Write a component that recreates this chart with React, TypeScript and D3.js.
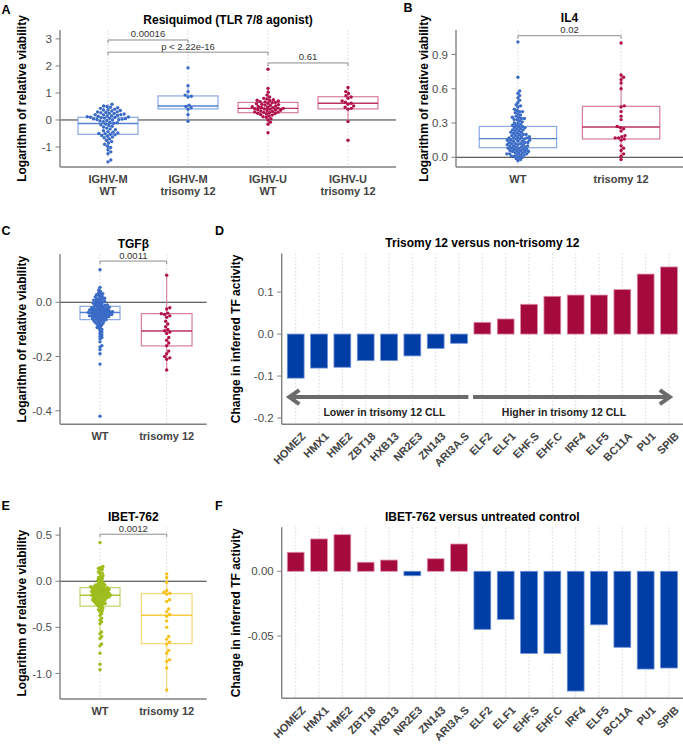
import React from 'react';
import * as d3 from 'd3';

const FONT = '"Liberation Sans", Arial, Helvetica, sans-serif';

// ---------- A: Resiquimod ----------
const resiqGroups = [['IGHV-M', 'WT'], ['IGHV-M', 'trisomy 12'], ['IGHV-U', 'WT'], ['IGHV-U', 'trisomy 12']];
const resiqMutWt = [0.58, 0.52, 0.5, 0.47, 0.45, 0.43, 0.4, 0.38, 0.37, 0.35, 0.33, 0.3, 0.3, 0.28, 0.27, 0.25, 0.24,
  0.22, 0.2, 0.2, 0.19, 0.17, 0.16, 0.15, 0.14, 0.12, 0.11, 0.1, 0.09, 0.08, 0.07, 0.06, 0.05, 0.04, 0.03, 0.02, 0.01,
  0.0, -0.02, -0.04, -0.06, -0.08, -0.1, -0.12, -0.15, -0.18, -0.2, -0.23, -0.26, -0.3, -0.33, -0.36, -0.4, -0.43,
  -0.45, -0.48, -0.5, -0.51, -0.53, -0.55, -0.57, -0.6, -0.63, -0.66, -0.7, -0.75, -0.8, -0.85, -0.9, -0.97, -1.02,
  -1.1, -1.18, -1.25, -1.48, -1.55];
const resiqMutTri = [1.93, 1.27, 1.05, 0.92, 0.88, 0.85, 0.55, 0.5, 0.45, 0.4, 0.2, -0.05];
const resiqUnmWt = [1.88, 1.17, 1.03, 0.92, 0.85, 0.8, 0.78, 0.75, 0.73, 0.72, 0.7, 0.68, 0.67, 0.65, 0.64, 0.62, 0.6,
  0.58, 0.57, 0.55, 0.54, 0.52, 0.5, 0.49, 0.48, 0.46, 0.45, 0.44, 0.43, 0.42, 0.41, 0.4, 0.38, 0.37, 0.36, 0.35, 0.33,
  0.32, 0.3, 0.29, 0.28, 0.27, 0.25, 0.24, 0.22, 0.2, 0.18, 0.15, 0.12, 0.1, 0.05, 0.0, -0.08, -0.16, -0.47];
const resiqUnmTri = [1.2, 1.05, 0.98, 0.9, 0.85, 0.8, 0.7, 0.66, 0.62, 0.58, 0.52, 0.47, 0.43, 0.4, -0.06, -0.75];
const resiqBoxes = [[-0.53, -0.13, 0.1], [0.41, 0.52, 0.89], [0.27, 0.43, 0.65], [0.41, 0.62, 0.86]];
const resiqTicks = [-1, 0, 1, 2, 3];

// ---------- B: IL4 ----------
const il4Groups = [['WT'], ['trisomy 12']];
const il4Wt = [1.01, 0.7, 0.58, 0.56, 0.54, 0.52, 0.5, 0.48, 0.46, 0.45, 0.44, 0.42, 0.41, 0.4, 0.4, 0.39, 0.38, 0.37,
  0.36, 0.35, 0.35, 0.34, 0.34, 0.33, 0.33, 0.32, 0.31, 0.3, 0.3, 0.29, 0.28, 0.28, 0.27, 0.27, 0.26, 0.26, 0.25, 0.25,
  0.24, 0.24, 0.23, 0.23, 0.22, 0.22, 0.21, 0.21, 0.2, 0.2, 0.2, 0.19, 0.19, 0.18, 0.18, 0.18, 0.17, 0.17, 0.17, 0.16,
  0.16, 0.16, 0.15, 0.15, 0.15, 0.14, 0.14, 0.14, 0.13, 0.13, 0.13, 0.12, 0.12, 0.12, 0.11, 0.11, 0.11, 0.1, 0.1, 0.1,
  0.09, 0.09, 0.09, 0.08, 0.08, 0.08, 0.07, 0.07, 0.07, 0.06, 0.06, 0.06, 0.05, 0.05, 0.05, 0.04, 0.04, 0.04, 0.03,
  0.03, 0.03, 0.02, 0.02, 0.02, 0.01, 0.01, 0.0, 0.0, -0.01, -0.02, -0.03];
const il4Tri = [1.0, 0.72, 0.7, 0.68, 0.65, 0.6, 0.45, 0.44, 0.4, 0.36, 0.33, 0.27, 0.26, 0.25, 0.23, 0.19, 0.18, 0.17,
  0.17, 0.16, 0.15, 0.1, 0.08, 0.06, 0.03, 0.01, -0.02];
const il4Boxes = [[0.084, 0.163, 0.27], [0.16, 0.265, 0.446]];
const il4Ticks = [0, 0.3, 0.6, 0.9];

// ---------- C: TGFβ ----------
const tgfGroups = [['WT'], ['trisomy 12']];
const tgfWt = [0.12, 0.055, 0.045, 0.04, 0.035, 0.032, 0.03, 0.028, 0.025, 0.022, 0.02, 0.018, 0.015, 0.013, 0.012,
  0.01, 0.008, 0.006, 0.005, 0.003, 0.002, 0.0, -0.002, -0.004, -0.005, -0.007, -0.008, -0.01, -0.011, -0.012, -0.014,
  -0.015, -0.016, -0.018, -0.019, -0.02, -0.021, -0.022, -0.023, -0.024, -0.025, -0.026, -0.027, -0.028, -0.029, -0.03,
  -0.03, -0.031, -0.032, -0.033, -0.034, -0.035, -0.035, -0.036, -0.037, -0.038, -0.038, -0.039, -0.04, -0.04, -0.041,
  -0.042, -0.043, -0.044, -0.045, -0.045, -0.046, -0.047, -0.048, -0.049, -0.05, -0.05, -0.051, -0.052, -0.053, -0.054,
  -0.055, -0.056, -0.057, -0.058, -0.06, -0.061, -0.062, -0.064, -0.065, -0.067, -0.068, -0.07, -0.072, -0.074, -0.076,
  -0.078, -0.08, -0.083, -0.086, -0.09, -0.093, -0.097, -0.1, -0.105, -0.11, -0.115, -0.12, -0.125, -0.13, -0.135,
  -0.146, -0.16, -0.165, -0.175, -0.19, -0.228, -0.42];
const tgfTri = [0.1, -0.02, -0.025, -0.04, -0.042, -0.045, -0.05, -0.055, -0.07, -0.08, -0.09, -0.1, -0.105, -0.11,
  -0.115, -0.13, -0.14, -0.15, -0.16, -0.18, -0.19, -0.2, -0.205, -0.21, -0.25];
const tgfBoxes = [[-0.064, -0.038, -0.015], [-0.161, -0.106, -0.042]];
const tgfTicks = [-0.4, -0.2, 0];

// ---------- E: IBET-762 ----------
const ibetGroups = [['WT'], ['trisomy 12']];
const ibetWt = [0.42, 0.16, 0.15, 0.14, 0.13, 0.12, 0.1, 0.09, 0.08, 0.06, 0.05, 0.04, 0.03, 0.02, 0.01, 0.0, -0.01,
  -0.02, -0.03, -0.03, -0.04, -0.04, -0.05, -0.05, -0.06, -0.06, -0.06, -0.07, -0.07, -0.07, -0.08, -0.08, -0.08, -0.09,
  -0.09, -0.09, -0.1, -0.1, -0.1, -0.11, -0.11, -0.11, -0.12, -0.12, -0.12, -0.13, -0.13, -0.13, -0.14, -0.14, -0.14,
  -0.15, -0.15, -0.15, -0.15, -0.16, -0.16, -0.16, -0.17, -0.17, -0.17, -0.18, -0.18, -0.18, -0.19, -0.19, -0.2, -0.2,
  -0.2, -0.21, -0.21, -0.22, -0.22, -0.23, -0.23, -0.24, -0.24, -0.25, -0.25, -0.26, -0.27, -0.28, -0.29, -0.3, -0.31,
  -0.32, -0.33, -0.35, -0.37, -0.4, -0.42, -0.44, -0.46, -0.55, -0.57, -0.6, -0.62, -0.68, -0.7, -0.78, -0.9, -0.96];
const ibetTri = [0.08, 0.04, -0.01, -0.1, -0.12, -0.13, -0.14, -0.2, -0.22, -0.3, -0.33, -0.36, -0.38, -0.43, -0.5,
  -0.6, -0.63, -0.66, -0.68, -0.75, -0.78, -0.85, -0.87, -0.94, -1.18];
const ibetBoxes = [[-0.27, -0.152, -0.069], [-0.677, -0.369, -0.134]];
const ibetTicks = [-1, -0.5, 0, 0.5];

// ---------- D / F: TF activity ----------
const tfNames = ['HOMEZ', 'HMX1', 'HME2', 'ZBT18', 'HXB13', 'NR2E3', 'ZN143', 'ARI3A.S', 'ELF2', 'ELF1', 'EHF.S',
  'EHF.C', 'IRF4', 'ELF5', 'BC11A', 'PU1', 'SPIB'];
const tfTri12 = [-0.105, -0.081, -0.079, -0.063, -0.063, -0.052, -0.034, -0.022, 0.028, 0.036, 0.071, 0.09, 0.093,
  0.093, 0.106, 0.143, 0.16];
const tfIbet = [0.0147, 0.025, 0.0283, 0.007, 0.0087, -0.0034, 0.0097, 0.0211, -0.0448, -0.0371, -0.0634, -0.0634,
  -0.0925, -0.0413, -0.0587, -0.0755, -0.0747];
const tri12Ticks = [-0.2, -0.1, 0, 0.1];
const ibetTfTicks = [-0.05, 0];

const BLUE = '#3a6bc6';
const BLUE_L = '#8aa8e2';
const RED = '#b0114a';
const RED_L = '#d57d9b';
const GREEN = '#9dbd1d';
const GREEN_L = '#bdd46c';
const YELLOW = '#f6c21b';
const YELLOW_L = '#f8d772';
const BAR_RED = '#a50a3d';
const BAR_RED_EDGE = '#dc8fa8';
const BAR_BLUE = '#003da5';
const BAR_BLUE_EDGE = '#6d90d8';

const AXIS = '#808080';
const TICKTXT = '#4d4d4d';
const DOT_R = 1.7;

type Bracket = { a: number; b: number; y: number; label: string };

type BoxSpec = {
  letter: string; lx: number; ly: number; title: string; titleDy: number; ylabX: number;
  l: number; r: number; t: number; b: number; domain: [number, number];
  ticks: number[]; digits: number; groups: string[][]; series: number[][]; boxes: number[][];
  colors: string[]; lights: string[]; widths: number[]; spacing: number[]; brackets: Bracket[];
};

// simple beeswarm: each point takes the free x offset closest to the centre
function swarm(vals: number[], y: (v: number) => number, d: number) {
  const pts = vals.map((v) => ({ v, y: y(v), x: 0 })).sort((a, b) => a.v - b.v);
  const placed: { x: number; y: number }[] = [];
  for (const p of pts) {
    const near = placed.filter((q) => Math.abs(q.y - p.y) < d);
    const cands = [0];
    near.forEach((q) => {
      const dx = Math.sqrt(d * d - (q.y - p.y) ** 2);
      cands.push(q.x + dx, q.x - dx);
    });
    cands.sort((a, b) => Math.abs(a) - Math.abs(b));
    for (const c of cands) {
      if (near.every((q) => (q.x - c) ** 2 + (q.y - p.y) ** 2 >= d * d - 1e-6)) {
        p.x = c;
        break;
      }
    }
    placed.push(p);
  }
  return pts;
}

function YAxis({ l, t, b, y, ticks, digits }: any) {
  return (
    <g>
      <line x1={l} x2={l} y1={t} y2={b} stroke={AXIS} strokeWidth={1.4} />
      {ticks.map((v: number) => (
        <g key={v}>
          <line x1={l - 4.5} x2={l} y1={y(v)} y2={y(v)} stroke={AXIS} strokeWidth={1} />
          <text x={l - 8} y={y(v)} dy="0.36em" textAnchor="end" fontSize={11.5} fill={TICKTXT}>
            {v.toFixed(digits)}
          </text>
        </g>
      ))}
    </g>
  );
}

function BoxPanel({ s }: { s: BoxSpec }) {
  const keys = s.groups.map((_, i) => String(i));
  const x = d3.scalePoint<string>().domain(keys).range([s.l, s.r]).padding(0.6);
  const step = x.step();
  const y = d3.scaleLinear().domain(s.domain).range([s.b, s.t]);
  const mid = (s.t + s.b) / 2;
  return (
    <g>
      <text x={s.lx} y={s.ly} fontWeight="bold" fontSize={12.5}>{s.letter}</text>
      <text x={(s.l + s.r) / 2} y={s.t - 6.5 + s.titleDy} textAnchor="middle" fontWeight="bold" fontSize={12}>{s.title}</text>
      <text transform={`translate(${s.ylabX},${mid}) rotate(-90)`} textAnchor="middle" fontWeight="bold" fontSize={12}>
        Logarithm of relative viability
      </text>
      {keys.map((k) => (
        <line key={k} x1={x(k)} x2={x(k)} y1={s.t} y2={s.b} stroke="#cccccc" strokeWidth={0.8} strokeDasharray="1.5,2" />
      ))}
      <line x1={s.l} x2={s.r} y1={y(0)} y2={y(0)} stroke="#333" strokeWidth={1} />
      <YAxis l={s.l} t={s.t} b={s.b} y={y} ticks={s.ticks} digits={s.digits} />
      <line x1={s.l} x2={s.r} y1={s.b} y2={s.b} stroke={AXIS} strokeWidth={1.4} />
      {keys.map((k, i) => {
        const cx = x(k) as number;
        const [q1, med, q3] = s.boxes[i];
        const vals = s.series[i];
        const iqr = q3 - q1;
        const hi = d3.max(vals.filter((v) => v <= q3 + 1.5 * iqr)) as number;
        const lo = d3.min(vals.filter((v) => v >= q1 - 1.5 * iqr)) as number;
        const w = s.widths[i] * step;
        const pts = swarm(vals, y, 2 * DOT_R * s.spacing[i]);
        return (
          <g key={k}>
            <line x1={cx} x2={cx} y1={y(hi)} y2={y(q3)} stroke={s.lights[i]} strokeWidth={1.1} />
            <line x1={cx} x2={cx} y1={y(q1)} y2={y(lo)} stroke={s.lights[i]} strokeWidth={1.1} />
            <rect x={cx - w / 2} width={w} y={y(q3)} height={y(q1) - y(q3)} fill="white" stroke={s.lights[i]} strokeWidth={1.2} />
            <line x1={cx - w / 2} x2={cx + w / 2} y1={y(med)} y2={y(med)} stroke={s.colors[i]} strokeWidth={1.4} opacity={0.85} />
            {pts.map((p, j) => (
              <circle key={j} cx={cx + p.x} cy={p.y} r={DOT_R} fill={s.colors[i]} />
            ))}
            <text x={cx} y={s.b + 16} textAnchor="middle" fontWeight="bold" fontSize={11} fill="#444">
              {s.groups[i].map((ln, li) => (
                <tspan key={li} x={cx} dy={li === 0 ? 0 : 12}>{ln}</tspan>
              ))}
            </text>
          </g>
        );
      })}
      {s.brackets.map((br, i) => {
        const xa = x(String(br.a)) as number;
        const xb = x(String(br.b)) as number;
        const yy = y(br.y);
        return (
          <g key={i}>
            <path d={`M${xa},${yy + 3}V${yy}H${xb}V${yy + 3}`} fill="none" stroke="#8c8c8c" strokeWidth={1} />
            <text x={(xa + xb) / 2} y={yy - 2.5} textAnchor="middle" fontSize={9.5} fill="#333">{br.label}</text>
          </g>
        );
      })}
    </g>
  );
}

type BarSpec = {
  letter: string; lx: number; ly: number; title: string; ylabX: number;
  l: number; r: number; t: number; b: number; domain: [number, number];
  ticks: number[]; digits: number; values: number[]; arrows: boolean;
};

function BarPanel({ s }: { s: BarSpec }) {
  const x = d3.scalePoint<string>().domain(tfNames).range([s.l, s.r]).padding(0.6);
  const step = x.step();
  const y = d3.scaleLinear().domain(s.domain).range([s.b, s.t]);
  const w = 0.72 * step;
  const mid = (s.t + s.b) / 2;
  const ay = y(-0.15);
  const gray = '#6b6b6b';
  const lx1 = (x(tfNames[0]) as number) - 0.36 * step;
  const lx2 = (x(tfNames[7]) as number) + 0.4 * step;
  const rx1 = (x(tfNames[8]) as number) - 0.4 * step;
  const rx2 = (x(tfNames[16]) as number) + 0.12 * step;
  return (
    <g>
      <text x={s.lx} y={s.ly} fontWeight="bold" fontSize={12.5}>{s.letter}</text>
      <text x={(s.l + s.r) / 2} y={s.t - 6.5} textAnchor="middle" fontWeight="bold" fontSize={12}>{s.title}</text>
      <text transform={`translate(${s.ylabX},${mid}) rotate(-90)`} textAnchor="middle" fontWeight="bold" fontSize={12}>
        Change in inferred TF activity
      </text>
      {tfNames.map((n) => (
        <line key={n} x1={x(n)} x2={x(n)} y1={s.t} y2={s.b} stroke="#cccccc" strokeWidth={0.8} strokeDasharray="1.5,2" />
      ))}
      {tfNames.map((n, i) => {
        const v = s.values[i];
        const pos = v >= 0;
        return (
          <rect key={n} x={(x(n) as number) - w / 2} width={w} y={y(Math.max(0, v))} height={Math.abs(y(v) - y(0))}
            fill={pos ? BAR_RED : BAR_BLUE} stroke={pos ? BAR_RED_EDGE : BAR_BLUE_EDGE} strokeWidth={0.8} />
        );
      })}
      <YAxis l={s.l} t={s.t} b={s.b} y={y} ticks={s.ticks} digits={s.digits} />
      <line x1={s.l} x2={s.r} y1={s.b} y2={s.b} stroke={AXIS} strokeWidth={1.4} />
      {tfNames.map((n) => (
        <text key={n} transform={`translate(${(x(n) as number) + 5},${s.b + 7}) rotate(-45)`} dy="0.72em"
          textAnchor="end" fontWeight="bold" fontSize={11} fill="#444">{n}</text>
      ))}
      {s.arrows && (
        <g>
          <line x1={lx1 + 2} x2={lx2} y1={ay} y2={ay} stroke={gray} strokeWidth={4} />
          <polyline points={`${lx1 + 12},${ay - 7} ${lx1 + 2},${ay} ${lx1 + 12},${ay + 7}`} fill="none" stroke={gray} strokeWidth={4} strokeLinejoin="miter" />
          <line x1={rx1} x2={rx2 - 2} y1={ay} y2={ay} stroke={gray} strokeWidth={4} />
          <polyline points={`${rx2 - 12},${ay - 7} ${rx2 - 2},${ay} ${rx2 - 12},${ay + 7}`} fill="none" stroke={gray} strokeWidth={4} strokeLinejoin="miter" />
          <text x={(x(tfNames[0]) as number) + 3.8 * step} y={y(-0.186)} dy="0.36em" textAnchor="middle" fontWeight="bold" fontSize={10.5} fill="#222">
            Lower in trisomy 12 CLL
          </text>
          <text x={(x(tfNames[8]) as number) + 3.5 * step} y={y(-0.186)} dy="0.36em" textAnchor="middle" fontWeight="bold" fontSize={10.5} fill="#222">
            Higher in trisomy 12 CLL
          </text>
        </g>
      )}
    </g>
  );
}

const panelA: BoxSpec = {
  letter: 'A', lx: 1.5, ly: 13.5, title: 'Resiquimod (TLR 7/8 agonist)', titleDy: 0, ylabX: 25.5,
  l: 60, r: 396, t: 30, b: 167, domain: [-1.74, 3.33], ticks: resiqTicks, digits: 0,
  groups: resiqGroups, series: [resiqMutWt, resiqMutTri, resiqUnmWt, resiqUnmTri], boxes: resiqBoxes,
  colors: [BLUE, BLUE, RED, RED], lights: [BLUE_L, BLUE_L, RED_L, RED_L], widths: [0.75, 0.75, 0.75, 0.75],
  spacing: [1, 1, 0.95, 1],
  brackets: [
    { a: 0, b: 1, y: 2.96, label: '0.00016' },
    { a: 0, b: 2, y: 2.51, label: 'p < 2.22e-16' },
    { a: 2, b: 3, y: 2.11, label: '0.61' },
  ],
};

const panelB: BoxSpec = {
  letter: 'B', lx: 403.5, ly: 11.5, title: 'IL4', titleDy: -1.5, ylabX: 427.5,
  l: 456, r: 683, t: 30, b: 167, domain: [-0.085, 1.114], ticks: il4Ticks, digits: 1,
  groups: il4Groups, series: [il4Wt, il4Tri], boxes: il4Boxes,
  colors: [BLUE, RED], lights: [BLUE_L, RED_L], widths: [0.75, 0.75], spacing: [0.85, 1],
  brackets: [{ a: 0, b: 1, y: 1.064, label: '0.02' }],
};

const panelC: BoxSpec = {
  letter: 'C', lx: 1.5, ly: 235, title: 'TGFβ', titleDy: 0, ylabX: 25.5,
  l: 60, r: 206.7, t: 254, b: 424.3, domain: [-0.45, 0.178], ticks: tgfTicks, digits: 1,
  groups: tgfGroups, series: [tgfWt, tgfTri], boxes: tgfBoxes,
  colors: [BLUE, RED], lights: [BLUE_L, RED_L], widths: [0.6, 0.76], spacing: [0.68, 1],
  brackets: [{ a: 0, b: 1, y: 0.152, label: '0.0011' }],
};

const panelE: BoxSpec = {
  letter: 'E', lx: 1.5, ly: 510, title: 'IBET-762', titleDy: 0, ylabX: 25.5,
  l: 60, r: 206.7, t: 527.3, b: 699, domain: [-1.277, 0.585], ticks: ibetTicks, digits: 1,
  groups: ibetGroups, series: [ibetWt, ibetTri], boxes: ibetBoxes,
  colors: [GREEN, YELLOW], lights: [GREEN_L, YELLOW_L], widths: [0.6, 0.76], spacing: [0.72, 1],
  brackets: [{ a: 0, b: 1, y: 0.51, label: '0.0012' }],
};

const panelD: BarSpec = {
  letter: 'D', lx: 215, ly: 235, title: 'Trisomy 12 versus non-trisomy 12', ylabX: 240,
  l: 281.7, r: 683, t: 253.5, b: 424.3, domain: [-0.215, 0.192], ticks: tri12Ticks, digits: 1,
  values: tfTri12, arrows: true,
};

const panelF: BarSpec = {
  letter: 'F', lx: 215, ly: 510, title: 'IBET-762 versus untreated control', ylabX: 240,
  l: 281.7, r: 683, t: 527.3, b: 698.3, domain: [-0.0981, 0.034], ticks: ibetTfTicks, digits: 2,
  values: tfIbet, arrows: false,
};

export default function App() {
  return (
    <svg width={683} height={746} style={{ position: 'absolute', left: 0, top: 0, background: 'white' }}
      fontFamily={FONT}>
      <BoxPanel s={panelA} />
      <BoxPanel s={panelB} />
      <BoxPanel s={panelC} />
      <BarPanel s={panelD} />
      <BoxPanel s={panelE} />
      <BarPanel s={panelF} />
    </svg>
  );
}
